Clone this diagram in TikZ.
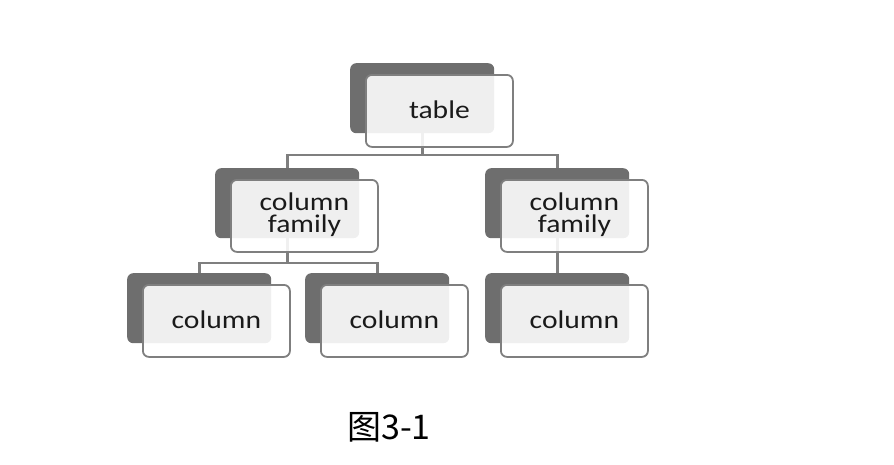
\documentclass[tikz,border=0pt]{standalone}
\usepackage{fontspec}
\setmainfont{Carlito}[FakeStretch=1.16]
\newfontfamily\cjk{Noto Sans CJK SC}
\usetikzlibrary{backgrounds}
\definecolor{darkg}{HTML}{6E6E6E}
\definecolor{lineg}{HTML}{7F7F7F}
\definecolor{txt}{HTML}{1A1A1A}
\tikzset{
  darkbox/.style={draw=none, fill=darkg, rounded corners=6pt, minimum width=144pt, minimum height=70pt, anchor=north west, inner sep=0pt},
  frontbox/.style={draw=lineg, line width=1.8pt, fill=white, fill opacity=0.89, text opacity=1, rounded corners=6pt, minimum width=147pt, minimum height=72pt, anchor=north west, inner sep=0pt},
  boxtext/.style={font=\fontsize{25.5}{22}\selectfont, text=txt, align=center},
  conn/.style={draw=lineg, line width=2.6pt},
}
\newcommand\tabunit[4]{%
  \node[darkbox] (#1D) at (#2,#3) {};
  \node[frontbox] (#1F) at (#2+15,#3+11) {};
  \node[boxtext] (#1T) at ([yshift=1pt]#1F.center) {#4};
}
\begin{document}
\begin{tikzpicture}[x=1pt,y=-1pt]
\useasboundingbox (0,0) rectangle (894,464);
\tabunit{t}{350}{63}{table}
\tabunit{fl}{215}{168}{column\\family}
\tabunit{fr}{485}{168}{column\\family}
\tabunit{ca}{127}{273}{column}
\tabunit{cb}{305}{273}{column}
\tabunit{cc}{485}{273}{column}
\coordinate (bus1) at (0,155);
\coordinate (bus2) at (0,263);
\begin{scope}[on background layer]
\draw[conn] (tD.center) -- (tD.center |- bus1) -| (flD.north);
\draw[conn] (tD.center |- bus1) -| (frD.north);
\draw[conn] (flD.center) -- (flD.center |- bus2) -| (caD.north);
\draw[conn] (flD.center |- bus2) -| (cbD.north);
\draw[conn] (frD.center) -- (ccD.north);
\end{scope}
\node[font=\cjk\fontsize{34}{38}\selectfont, text=black] (cap) at (389,427) {图3-1};
\end{tikzpicture}
\end{document}
